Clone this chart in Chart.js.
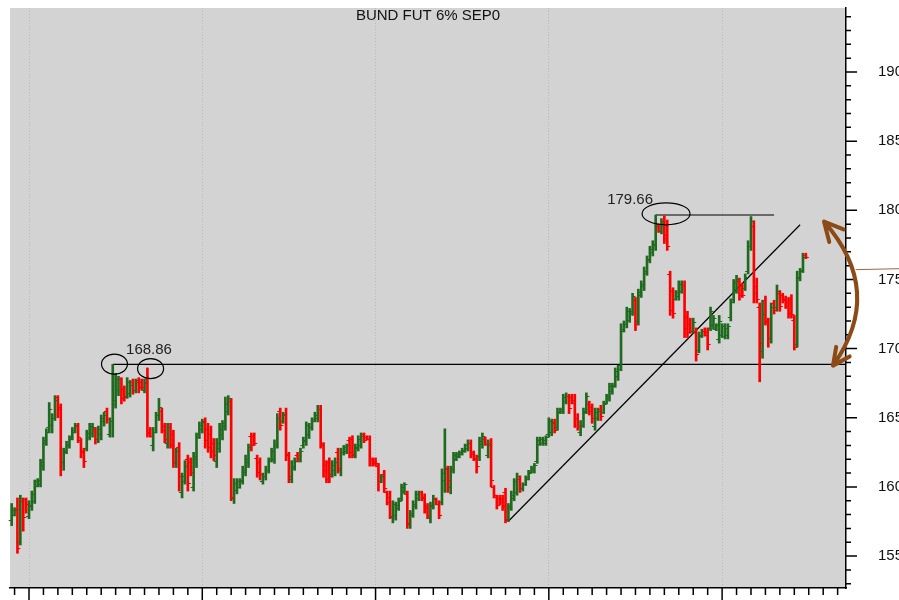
<!DOCTYPE html>
<html lang="en">
<head>
<meta charset="UTF-8">
<title>BUND FUT 6% SEP0</title>
<style>
  body { margin: 0; background: #fff; }
  canvas { display: block; }
</style>
</head>
<body>
<canvas id="myChart" width="899" height="600"></canvas>

<script src="https://cdn.jsdelivr.net/npm/chart.js"></script>
<script>
"use strict"

// trading day of the first bar (day 0 = first quarter gridline)
const firstDay = -6

const opens = [
  157.6, 158.0, 158.4, 156.0, 159.0, 159.1, 157.9, 158.6, 159.0, 160.1,
  160.2, 161.6, 163.2, 164.3, 164.5, 165.0, 166.5, 165.8, 161.8, 162.6,
  163.0, 163.6, 164.0, 164.4, 163.4, 162.6, 162.8, 163.6, 163.9, 164.2,
  163.5, 163.8, 164.8, 165.5, 163.8, 164.8, 166.0, 167.0, 167.8, 167.1,
  166.6, 166.8, 167.6, 167.0, 167.7, 167.6, 167.0, 167.5, 164.0, 163.0,
  164.0, 165.2, 165.5, 164.4, 163.2, 164.3, 163.8, 161.7, 162.9, 159.6,
  160.4, 162.0, 161.8, 160.0, 162.0, 163.8, 164.2, 164.8, 164.2, 163.8,
  163.2, 161.9, 162.8, 163.8, 164.4, 165.5, 166.2, 159.2, 159.8, 160.0,
  160.4, 161.1, 161.8, 163.7, 163.7, 162.1, 161.8, 160.4, 160.8, 161.2,
  162.0, 162.0, 163.0, 165.5, 164.8, 165.3, 162.3, 160.6, 161.4, 162.3,
  162.0, 163.0, 163.3, 163.8, 164.3, 164.8, 165.0, 165.6, 163.0, 161.6,
  161.8, 160.9, 161.2, 162.5, 161.2, 162.5, 162.6, 163.4, 163.5, 162.3,
  162.8, 163.0, 163.8, 163.6, 163.5, 162.0, 161.9, 161.5, 160.4, 160.9,
  159.6, 159.3, 157.8, 158.0, 158.5, 159.2, 159.7, 159.5, 157.3, 158.0,
  158.6, 159.2, 159.6, 159.3, 158.6, 157.8, 158.6, 159.1, 158.8, 158.9,
  160.5, 161.3, 160.0, 161.3, 162.0, 162.2, 162.4, 162.6, 162.8, 163.2,
  162.5, 162.0, 162.2, 163.1, 163.5, 162.3, 163.2, 160.0, 159.3, 159.2,
  159.1, 159.6, 157.7, 158.5, 159.2, 159.6, 160.6, 159.9, 160.2, 160.6,
  161.1, 161.2, 161.9, 163.1, 163.2, 163.2, 163.8, 164.0, 164.7, 164.3,
  165.4, 165.5, 166.2, 166.6, 166.5, 166.3, 165.0, 164.0, 164.5, 165.5,
  166.0, 165.8, 164.4, 165.0, 165.6, 165.4, 166.1, 166.4, 166.9, 167.4,
  168.0, 168.8, 171.4, 171.8, 172.1, 172.6, 173.5, 172.0, 173.9, 174.5,
  175.5, 176.4, 177.0, 177.5, 178.9, 178.5, 179.2, 178.2, 175.4, 174.2,
  173.6, 173.8, 174.2, 174.6, 172.3, 171.8, 171.3, 171.3, 169.9, 170.9,
  171.3, 171.2, 171.5, 171.7, 171.4, 170.7, 171.0, 170.9, 171.0, 172.3,
  173.6, 174.2, 174.9, 174.5, 174.4, 175.6, 177.4, 178.9, 174.5, 173.0,
  169.8, 173.5, 171.9, 170.8, 173.3, 173.0, 174.0, 173.9, 173.6, 173.4,
  173.6, 172.1, 170.3, 175.1, 175.7, 176.8
]

const highs = [
  158.8, 158.5, 159.2, 159.4, 159.2, 159.2, 159.0, 159.7, 160.5, 160.6,
  162.0, 163.6, 164.2, 166.1, 165.3, 166.6, 166.6, 166.0, 162.8, 163.3,
  163.7, 164.3, 164.6, 164.6, 163.5, 162.8, 164.1, 164.6, 164.6, 164.3,
  164.4, 165.2, 165.4, 165.7, 165.0, 168.86, 168.2, 168.0, 167.9, 167.3,
  167.9, 167.7, 167.8, 167.8, 167.9, 167.8, 167.8, 168.6, 164.3, 164.3,
  165.4, 166.4, 165.7, 164.6, 164.6, 164.6, 164.1, 162.8, 163.2, 161.0,
  161.9, 162.3, 162.1, 162.5, 163.9, 164.7, 164.9, 165.0, 164.6, 164.4,
  163.5, 163.5, 164.6, 164.8, 166.5, 166.6, 166.4, 160.6, 160.6, 160.6,
  161.5, 162.3, 163.1, 163.9, 163.9, 162.3, 162.1, 161.0, 161.5, 162.1,
  162.8, 163.4, 165.3, 165.7, 165.4, 165.7, 162.5, 161.9, 162.1, 162.5,
  162.8, 163.6, 164.7, 164.6, 165.0, 165.4, 165.9, 165.9, 163.2, 161.9,
  162.1, 161.9, 162.1, 162.8, 162.8, 163.0, 163.1, 163.6, 163.7, 163.1,
  163.7, 163.9, 163.9, 163.7, 163.7, 162.1, 162.1, 161.7, 160.9, 161.2,
  159.7, 159.7, 159.0, 158.9, 159.2, 160.2, 160.3, 159.7, 158.3, 159.0,
  159.7, 159.7, 159.7, 159.5, 158.8, 158.9, 159.4, 159.2, 159.0, 161.3,
  164.2, 161.5, 161.5, 162.5, 162.5, 162.6, 162.8, 163.1, 163.4, 163.4,
  162.6, 162.3, 163.6, 163.9, 163.6, 163.4, 163.5, 160.1, 159.4, 159.4,
  159.4, 159.9, 158.8, 159.7, 160.6, 161.0, 160.8, 160.3, 160.8, 161.2,
  161.5, 161.7, 163.6, 163.6, 163.6, 163.7, 165.0, 164.9, 164.9, 165.7,
  165.7, 166.7, 166.8, 166.7, 166.7, 166.7, 165.3, 164.8, 165.7, 166.8,
  166.2, 166.0, 165.7, 165.7, 165.9, 166.2, 166.7, 167.5, 167.5, 168.6,
  168.8, 171.8, 172.0, 173.0, 172.9, 174.0, 173.7, 174.3, 174.9, 175.9,
  176.7, 177.4, 177.8, 179.66, 179.0, 179.4, 179.6, 179.3, 175.6, 174.4,
  174.2, 174.9, 174.9, 174.9, 172.7, 172.2, 172.2, 171.5, 171.2, 171.4,
  171.5, 171.5, 173.0, 172.4, 171.8, 172.4, 171.8, 171.8, 171.8, 173.6,
  175.0, 175.3, 175.1, 174.7, 175.4, 177.8, 179.55, 179.25, 175.1, 173.3,
  173.5, 173.8, 172.2, 173.3, 173.5, 174.6, 174.2, 174.0, 173.8, 173.7,
  173.9, 172.4, 175.6, 175.8, 176.9, 176.9
]

const lows = [
  157.2, 157.9, 155.2, 155.8, 156.8, 158.1, 157.7, 158.3, 158.8, 160.0,
  160.0, 161.2, 163.0, 163.9, 163.9, 164.8, 165.0, 160.8, 161.2, 162.4,
  162.8, 163.4, 163.9, 163.2, 162.1, 161.4, 162.6, 163.4, 163.6, 163.1,
  163.2, 163.4, 164.4, 164.6, 163.6, 163.6, 165.7, 166.6, 166.0, 166.2,
  166.4, 166.5, 166.7, 166.8, 166.8, 167.0, 166.8, 163.6, 163.6, 162.6,
  163.9, 164.8, 163.9, 163.2, 162.8, 162.8, 161.4, 161.4, 159.7, 159.2,
  160.2, 159.7, 160.8, 159.7, 161.4, 163.5, 163.9, 162.8, 162.5, 162.1,
  161.9, 161.4, 162.5, 163.4, 164.1, 165.2, 159.0, 158.8, 159.5, 159.9,
  160.2, 160.8, 161.4, 162.6, 163.0, 160.7, 160.5, 160.2, 160.5, 161.0,
  161.8, 161.7, 162.8, 164.1, 164.6, 161.9, 160.3, 160.3, 161.2, 161.8,
  161.8, 162.8, 163.0, 163.5, 164.1, 164.7, 164.7, 162.8, 160.7, 160.3,
  160.3, 160.7, 160.8, 161.0, 160.8, 162.3, 162.4, 162.1, 162.1, 162.1,
  162.6, 162.8, 163.2, 163.4, 161.5, 161.5, 161.5, 159.7, 160.3, 159.6,
  158.7, 157.7, 157.4, 157.6, 158.3, 159.0, 159.5, 157.0, 157.0, 157.8,
  158.4, 159.0, 159.0, 158.1, 157.7, 157.4, 158.4, 158.7, 157.7, 158.7,
  159.6, 159.6, 159.5, 161.0, 161.9, 162.1, 162.3, 162.5, 162.6, 162.1,
  161.9, 161.0, 161.9, 162.8, 163.0, 162.1, 160.0, 159.2, 158.4, 158.7,
  158.3, 157.4, 157.5, 158.3, 159.0, 159.4, 159.6, 159.7, 160.1, 160.5,
  161.0, 161.0, 161.7, 163.0, 163.0, 163.0, 163.6, 163.7, 163.9, 164.1,
  165.3, 165.3, 166.0, 165.3, 166.0, 164.3, 164.1, 163.7, 164.3, 165.3,
  165.2, 164.6, 164.1, 164.8, 164.8, 165.3, 166.0, 166.2, 166.7, 167.2,
  167.7, 168.4, 171.2, 171.5, 171.9, 172.4, 171.3, 171.7, 173.7, 174.2,
  175.3, 176.2, 176.7, 177.1, 178.4, 178.3, 177.6, 177.1, 172.4, 172.2,
  173.5, 173.5, 174.0, 170.8, 170.8, 171.1, 171.1, 169.1, 169.7, 170.8,
  170.9, 169.9, 171.3, 171.4, 171.3, 170.4, 170.8, 170.7, 170.7, 172.0,
  173.3, 174.0, 173.5, 173.7, 174.2, 175.4, 177.1, 173.3, 173.3, 167.6,
  169.3, 171.7, 170.1, 170.4, 172.5, 172.7, 172.7, 173.3, 172.9, 172.2,
  172.2, 169.9, 170.1, 174.9, 175.5, 176.5
]

const closes = [
  158.3, 158.3, 155.6, 159.2, 157.8, 158.8, 158.7, 159.5, 160.4, 160.5,
  161.8, 163.4, 164.0, 165.6, 165.0, 166.3, 165.6, 161.8, 162.5, 163.0,
  163.5, 164.1, 164.5, 163.6, 162.5, 161.9, 163.9, 164.4, 164.3, 163.5,
  164.2, 165.0, 165.2, 164.9, 164.8, 166.3, 167.8, 167.8, 166.4, 166.5,
  167.6, 167.4, 167.0, 167.6, 167.2, 167.2, 167.6, 163.9, 163.7, 164.0,
  165.2, 165.8, 164.1, 163.5, 164.3, 163.0, 161.9, 162.6, 160.8, 160.8,
  161.5, 160.3, 161.1, 162.2, 163.6, 164.5, 164.7, 163.4, 162.9, 162.6,
  162.3, 163.2, 164.2, 164.6, 166.0, 166.4, 159.3, 160.3, 160.4, 160.5,
  161.2, 162.0, 162.9, 163.0, 163.2, 161.1, 160.9, 160.8, 161.2, 161.9,
  162.6, 163.0, 165.0, 164.5, 165.2, 162.4, 160.8, 161.5, 161.9, 162.0,
  162.6, 163.4, 164.5, 164.3, 164.9, 165.2, 165.6, 163.2, 161.2, 160.6,
  160.8, 161.6, 161.8, 161.4, 162.5, 162.9, 163.0, 162.5, 162.4, 162.9,
  163.5, 163.7, 163.4, 163.5, 162.0, 161.7, 161.7, 160.4, 160.8, 159.9,
  158.9, 157.9, 158.8, 158.7, 159.0, 160.0, 160.2, 157.4, 158.1, 158.8,
  159.5, 159.6, 159.2, 158.5, 158.0, 158.7, 159.2, 158.8, 158.0, 161.0,
  161.4, 160.5, 161.3, 162.3, 162.4, 162.5, 162.7, 163.0, 163.2, 162.4,
  162.1, 161.5, 163.3, 163.7, 163.1, 163.0, 160.5, 159.4, 158.7, 158.9,
  158.6, 157.6, 158.6, 159.4, 160.4, 160.8, 159.9, 160.2, 160.7, 161.0,
  161.4, 161.6, 163.4, 163.5, 163.4, 163.6, 164.8, 164.6, 164.1, 165.4,
  165.6, 166.5, 166.6, 165.7, 166.1, 165.0, 164.4, 164.5, 165.4, 166.6,
  165.5, 165.0, 165.4, 165.5, 165.1, 166.0, 166.6, 167.3, 167.3, 168.4,
  168.5, 171.3, 171.8, 172.7, 172.7, 173.8, 171.8, 174.1, 174.7, 175.6,
  176.5, 177.2, 177.6, 179.0, 178.5, 179.1, 178.0, 177.4, 172.8, 172.6,
  174.1, 174.7, 174.6, 171.5, 171.2, 171.3, 171.9, 169.6, 171.0, 171.3,
  171.0, 170.3, 172.7, 172.2, 171.7, 172.0, 171.6, 171.5, 171.6, 173.4,
  174.8, 175.0, 173.9, 173.9, 175.2, 177.4, 179.2, 174.0, 173.6, 170.4,
  172.5, 172.0, 170.8, 173.0, 172.8, 174.2, 173.1, 173.5, 173.1, 172.6,
  172.5, 170.1, 175.2, 175.6, 176.6, 176.6
]

// annotations (x = trading day, y = price)
const supportLevel = 168.86
const topLevel = 179.66
const supportLine = [{x: 29, y: supportLevel}, {x: 283, y: supportLevel}]
const topLine = [{x: 217, y: topLevel}, {x: 258, y: topLevel}]
const trendLine = [{x: 165.9, y: 157.5}, {x: 267, y: 178.96}]
const ellipseCentres = [{x: 29.6, y: 168.88}, {x: 42.1, y: 168.55}, {x: 220.6, y: 179.75}]
const labelAnchors = [{x: 33.6, y: 169.64, text: supportLevel.toFixed(2)}, {x: 200.2, y: 180.48, text: topLevel.toFixed(2)}]
const arrowPath = [{x: 275.3, y: 179.18}, {x: 296.6, y: 174.12}, {x: 278.4, y: 168.77}]
const brownMark = [{x: 286.4, y: 175.71}, {x: 301.3, y: 175.78}]

const GREEN = '#1f6a1f'
const RED = '#ff0000'
const FONT = "'Liberation Sans', Arial, sans-serif"

function barColor(i) {
    return closes[i] >= opens[i] ? GREEN : RED
}

const greyBg = {
    id: 'greyBg',
    beforeDraw(chart) {
        const {ctx, chartArea: a} = chart
        ctx.save()
        ctx.fillStyle = '#d3d3d3'
        ctx.fillRect(a.left, a.top, a.right - a.left, a.bottom - a.top)
        ctx.restore()
    }
}

// open tick on the left, close tick on the right
const ohlcTicks = {
    id: 'ohlcTicks',
    afterDatasetsDraw(chart) {
        const {ctx, scales: {x, y}} = chart
        ctx.save()
        ctx.lineWidth = 1
        opens.forEach((o, i) => {
            const px = x.getPixelForValue(firstDay + i)
            ctx.strokeStyle = barColor(i)
            ctx.beginPath()
            let py = Math.round(y.getPixelForValue(o)) + 0.5
            ctx.moveTo(px - 3, py)
            ctx.lineTo(px, py)
            py = Math.round(y.getPixelForValue(closes[i])) + 0.5
            ctx.moveTo(px, py)
            ctx.lineTo(px + 3, py)
            ctx.stroke()
        })
        ctx.restore()
    }
}

const axisTicks = {
    id: 'axisTicks',
    afterDraw(chart) {
        const {ctx, scales: {x, y}} = chart
        ctx.save()
        ctx.strokeStyle = '#000'
        ctx.lineWidth = 1.5
        ctx.beginPath()
        x.ticks.forEach(t => {
            const px = x.getPixelForValue(t.value)
            const len = t.value % 60 === 0 ? 12 : 7
            ctx.moveTo(px, x.top)
            ctx.lineTo(px, x.top + len)
        })
        y.ticks.forEach(t => {
            const py = y.getPixelForValue(t.value)
            const len = t.value % 5 === 0 ? 11 : 5
            ctx.moveTo(y.left, py)
            ctx.lineTo(y.left + len, py)
        })
        ctx.stroke()
        ctx.restore()
    }
}

function barb(ctx, tip, from, len, spread) {
    const a = Math.atan2(from.y - tip.y, from.x - tip.x)
    ctx.moveTo(tip.x + len * Math.cos(a - spread), tip.y + len * Math.sin(a - spread))
    ctx.lineTo(tip.x, tip.y)
    ctx.lineTo(tip.x + len * Math.cos(a + spread), tip.y + len * Math.sin(a + spread))
}

const drawings = {
    id: 'drawings',
    afterDraw(chart) {
        const {ctx, scales: {x, y}, chartArea} = chart
        const pt = p => ({x: x.getPixelForValue(p.x), y: y.getPixelForValue(p.y)})
        ctx.save()

        // title
        ctx.fillStyle = '#111'
        ctx.font = '15px ' + FONT
        ctx.textAlign = 'center'
        ctx.textBaseline = 'middle'
        ctx.fillText('BUND FUT 6% SEP0', (chartArea.left + chartArea.right) / 2, chartArea.top + 8)

        // price labels
        ctx.font = '15px ' + FONT
        ctx.textAlign = 'left'
        ctx.textBaseline = 'alphabetic'
        ctx.fillStyle = '#222'
        labelAnchors.forEach(l => {
            const p = pt(l)
            ctx.fillText(l.text, p.x, p.y)
        })

        // ellipses round the highs
        const sizes = [[13, 10], [13, 10], [24, 11]]
        ctx.strokeStyle = '#000'
        ctx.lineWidth = 1.2
        ellipseCentres.forEach((c, i) => {
            const p = pt(c)
            ctx.beginPath()
            ctx.ellipse(p.x, p.y, sizes[i][0], sizes[i][1], 0, 0, Math.PI * 2)
            ctx.stroke()
        })

        // brown double arrow
        const [p0, c, p2] = arrowPath.map(pt)
        ctx.strokeStyle = '#8b4a16'
        ctx.lineWidth = 4
        ctx.lineCap = 'round'
        ctx.lineJoin = 'round'
        ctx.beginPath()
        ctx.moveTo(p0.x, p0.y)
        ctx.quadraticCurveTo(c.x, c.y, p2.x, p2.y)
        barb(ctx, p0, c, 21, 0.47)
        ctx.moveTo(p2.x, p2.y)
        barb(ctx, p2, c, 19, 0.45)
        ctx.stroke()

        const m0 = pt(brownMark[0]), m1 = pt(brownMark[1])
        ctx.lineWidth = 1
        ctx.strokeStyle = '#a0663a'
        ctx.beginPath()
        ctx.moveTo(m0.x, m0.y)
        ctx.lineTo(m1.x, m1.y)
        ctx.stroke()

        ctx.restore()
    }
}

const ctx = document.getElementById('myChart')

const lineStyle = {
    type: 'line',
    borderColor: '#000',
    borderWidth: 1.2,
    pointRadius: 0,
    fill: false,
    tension: 0,
}

new Chart(ctx, {
    type: 'bar',
    data: {
        datasets: [
            {
                label: 'BUND FUT 6% SEP0',
                data: highs.map((h, i) => ({x: firstDay + i, y: [lows[i], h]})),
                backgroundColor: c => barColor(c.dataIndex),
                borderWidth: 0,
                barThickness: 2,
                grouped: false,
            },
            Object.assign({label: 'support', data: supportLine}, lineStyle),
            Object.assign({label: 'top', data: topLine}, lineStyle),
            Object.assign({label: 'trend', data: trendLine}, lineStyle),
        ]
    },
    options: {
        responsive: false,
        devicePixelRatio: 1,
        animation: false,
        layout: { padding: { left: 10, top: 8, right: 0, bottom: 0 } },
        plugins: {
            legend: { display: false },
            tooltip: { enabled: false },
            title: { display: false },
        },
        scales: {
            x: {
                type: 'linear',
                min: -6.58,
                max: 282.9,
                offset: false,
                ticks: { display: false, stepSize: 5, includeBounds: false, autoSkip: false },
                grid: {
                    offset: false,
                    drawTicks: false,
                    lineWidth: 1,
                    color: c => (c.tick && c.tick.value % 60 === 0) ? '#b8b8b8' : 'rgba(0,0,0,0)',
                },
                border: { display: true, color: '#000', width: 1.5, dash: [1, 2] },
                afterFit: s => {
                    s.height = 12
                    s.paddingLeft = 0
                    s.paddingRight = 0
                },
            },
            y: {
                type: 'linear',
                position: 'right',
                min: 152.69,
                max: 194.63,
                ticks: {
                    stepSize: 1,
                    includeBounds: false,
                    autoSkip: false,
                    padding: 32,
                    color: '#111',
                    font: { family: FONT, size: 15 },
                    callback: v => v % 5 === 0 ? String(v) : '',
                },
                grid: { display: false, drawTicks: false },
                border: { display: true, color: '#000', width: 1.5 },
                afterFit: s => {
                    s.width = 53
                    s.paddingTop = 0
                    s.paddingBottom = 0
                },
            }
        }
    },
    plugins: [greyBg, ohlcTicks, axisTicks, drawings]
})
</script>
</body>
</html>
